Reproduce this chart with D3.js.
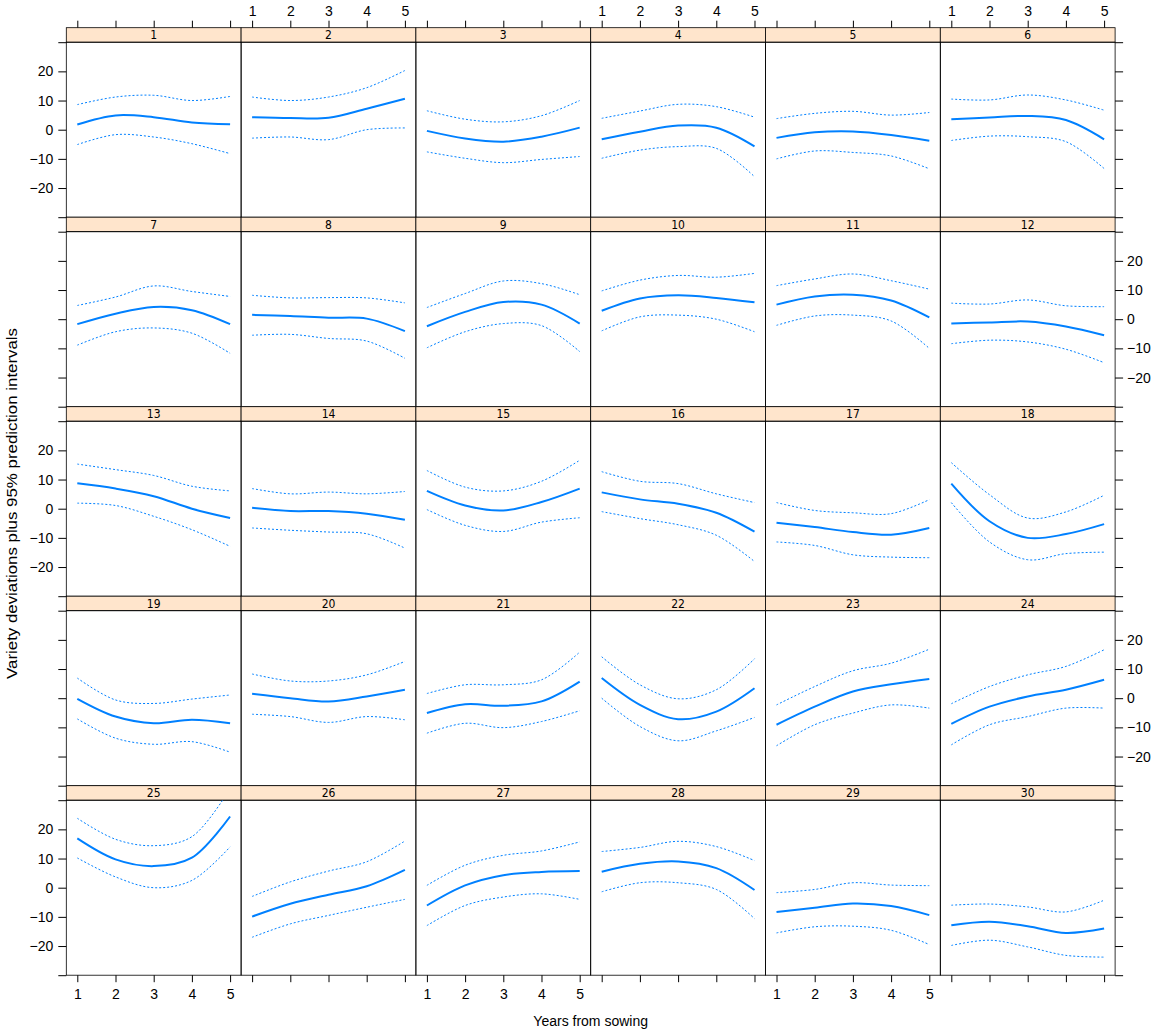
<!DOCTYPE html>
<html>
<head>
<meta charset="utf-8">
<script src="https://cdn.jsdelivr.net/npm/d3@7"></script>
<style>
  body { margin: 0; background: #fff; }
  svg text { font-family: 'Liberation Sans', Arial, Helvetica, sans-serif; fill: #000; }
  .strip text { font-family: 'Liberation Sans Narrow', 'DejaVu Sans Condensed', 'Liberation Sans', sans-serif; }
</style>
</head>
<body>
<svg id="chart" width="1157" height="1033"></svg>
<script>
// panel labels (variety numbers), in reading order
const varieties = [1, 2, 3, 4, 5, 6, 7, 8, 9, 10, 11, 12, 13, 14, 15,
  16, 17, 18, 19, 20, 21, 22, 23, 24, 25, 26, 27, 28, 29, 30];

// years from sowing at which the curves were read
const years = [1, 2, 3, 4, 5];

// fitted deviation (solid line), one row per variety
const fitted = [
  [1.8, 4.9, 4.3, 2.5, 1.9], [4.3, 4.0, 4.1, 7.2, 10.6], [-0.4, -3.0, -4.1, -2.4, 0.7],
  [-3.3, -0.7, 1.4, 0.7, -5.7], [-2.8, -0.9, -0.6, -1.8, -3.8], [3.6, 4.2, 4.7, 3.3, -3.3],
  [-1.7, 1.9, 4.2, 3.1, -1.7], [1.5, 1.1, 0.5, 0.2, -4.1], [-2.4, 2.5, 5.9, 5.0, -1.5],
  [2.9, 7.1, 8.2, 7.3, 5.8], [5.0, 7.8, 8.4, 6.4, 0.6], [-1.5, -1.1, -0.8, -2.5, -5.5],
  [8.7, 6.9, 4.3, 0.0, -3.2], [0.3, -0.8, -0.8, -1.7, -3.8], [6.1, 1.1, -0.6, 2.3, 6.9],
  [5.6, 3.2, 1.7, -1.4, -7.9], [-4.8, -6.3, -8.0, -8.9, -6.6], [8.6, -4.3, -10.0, -8.7, -5.3],
  [-0.2, -6.3, -8.6, -7.4, -8.6], [1.5, 0.0, -1.1, 0.6, 2.9], [-5.1, -2.1, -2.6, -1.1, 5.7],
  [6.9, -2.3, -7.2, -4.6, 3.4], [-9.1, -2.9, 2.3, 4.8, 6.6], [-8.8, -2.9, 0.6, 2.9, 6.3],
  [16.9, 9.7, 7.4, 10.3, 24.4], [-9.9, -5.5, -2.4, 0.5, 6.1], [-6.1, 0.8, 4.3, 5.4, 5.7],
  [5.5, 8.2, 9.0, 6.7, -0.8], [-8.3, -6.9, -5.4, -6.3, -9.4], [-12.9, -11.7, -13.2, -15.5, -14.0]
];

// upper 95% prediction limit (dotted)
const upper = [
  [8.6, 11.2, 11.8, 10.0, 11.4], [11.2, 10.0, 11.2, 14.4, 20.3], [6.5, 3.6, 2.7, 4.8, 10.0],
  [3.9, 6.4, 8.7, 7.9, 4.3], [3.8, 5.6, 6.3, 5.0, 5.9], [10.5, 10.2, 11.9, 10.2, 6.7],
  [4.7, 7.6, 11.4, 9.5, 7.8], [8.2, 7.3, 7.4, 7.3, 5.6], [4.0, 8.8, 13.1, 12.2, 8.4],
  [9.7, 13.4, 15.0, 14.4, 15.7], [11.5, 13.8, 15.5, 13.2, 10.3], [5.5, 5.2, 6.6, 4.6, 4.3],
  [15.3, 13.4, 11.4, 7.7, 6.1], [6.9, 5.1, 5.7, 5.1, 5.9], [13.1, 7.4, 6.1, 9.4, 16.6],
  [12.7, 9.4, 8.6, 5.1, 2.1], [2.1, -0.6, -1.4, -1.7, 3.1], [15.8, 4.8, -3.2, -1.1, 4.6],
  [6.9, -0.6, -1.8, -0.3, 1.1], [8.3, 5.9, 5.9, 8.0, 12.6], [1.6, 4.6, 4.6, 6.3, 15.8],
  [14.2, 4.6, -0.2, 2.9, 13.5], [-2.3, 4.0, 9.4, 12.0, 16.8], [-1.9, 4.0, 8.0, 10.9, 16.6],
  [23.8, 16.6, 14.4, 17.5, 34.0], [-3.0, 2.0, 5.7, 8.9, 16.0], [0.8, 7.7, 11.1, 12.6, 15.7],
  [12.4, 13.8, 15.9, 14.1, 9.3], [-1.7, -0.6, 1.7, 0.9, 0.7], [-6.0, -5.6, -6.6, -8.3, -4.3]
];

// lower 95% prediction limit (dotted)
const lower = [
  [-5.1, -1.7, -2.5, -4.8, -8.2], [-2.9, -2.5, -3.4, 0.0, 0.6], [-7.6, -9.8, -11.3, -10.2, -9.2],
  [-9.8, -7.0, -5.8, -6.4, -16.1], [-10.0, -7.3, -7.8, -9.0, -13.4], [-3.7, -2.2, -2.4, -4.1, -13.3],
  [-8.9, -4.3, -3.0, -4.8, -11.7], [-5.5, -5.2, -6.6, -7.5, -13.4], [-9.8, -4.3, -1.5, -2.2, -11.1],
  [-4.0, 0.8, 1.4, 0.0, -4.3], [-2.1, 1.1, 1.4, -0.6, -10.0], [-8.4, -7.2, -7.8, -10.3, -14.9],
  [1.9, 1.1, -2.6, -7.2, -12.9], [-6.6, -7.4, -8.0, -8.6, -13.5], [-0.3, -5.7, -7.8, -4.6, -3.1],
  [-1.0, -3.4, -5.5, -9.1, -18.1], [-11.4, -12.6, -15.8, -16.6, -16.8], [2.1, -11.4, -17.5, -15.4, -14.9],
  [-7.1, -13.7, -15.8, -14.9, -18.5], [-5.5, -6.3, -8.3, -6.3, -7.4], [-12.0, -8.6, -10.1, -8.0, -4.3],
  [0.0, -9.7, -14.6, -11.2, -6.6], [-16.3, -9.1, -5.1, -2.3, -3.4], [-16.0, -9.1, -6.3, -3.4, -3.4],
  [10.2, 3.7, 0.0, 2.5, 14.0], [-17.0, -12.4, -9.5, -6.7, -4.0], [-13.0, -6.1, -3.2, -2.1, -4.0],
  [-1.4, 1.7, 1.7, -0.6, -10.6], [-15.5, -13.4, -13.2, -14.6, -19.5], [-19.8, -18.0, -20.3, -23.2, -23.8]
];

const xTicks = [1, 2, 3, 4, 5];
const yTicks = [-30, -20, -10, 0, 10, 20, 30];
const yLabelled = [-20, -10, 0, 10, 20];
const xTitle = 'Years from sowing';
const yTitle = 'Variety deviations plus 95% prediction intervals';

const ncol = 6;
const nrow = 5;
const marginLeft = 66.3;
const marginTop = 27.7;
const colW = 174.8;
const stripH = 14.5;
const panelH = 175;
const rowH = stripH + panelH;
const blue = '#0080ff';

const $svg = d3.select('#chart');

const x = d3.scaleLinear().domain([0.712, 5.288]).range([0, colW]);
const y = d3.scaleLinear().domain([-30, 30]).range([panelH, 0]);

const line = d3.line()
  .x((d, i) => x(years[i]))
  .y(d => y(d))
  .curve(d3.curveCatmullRom);

const fmtY = d => (yLabelled.includes(d) ? String(d).replace('-', '\u2212') : '');

function styleAxis(g) {
  g.attr('font-size', 14).attr('font-family', null);
  g.select('.domain').remove();
  g.selectAll('line').attr('stroke', '#000');
}

function setupPanels() {
  $svg.append('defs')
    .append('clipPath')
    .attr('id', 'panel-clip')
    .append('rect')
    .attr('width', colW)
    .attr('height', panelH);

  const $panel = $svg.selectAll('.panel')
    .data(varieties)
    .enter()
    .append('g')
    .attr('class', 'panel')
    .attr('transform', (d, i) => {
      const c = i % ncol;
      const r = Math.floor(i / ncol);
      return `translate(${marginLeft + c * colW},${marginTop + r * rowH})`;
    });

  // strip
  const $strip = $panel.append('g').attr('class', 'strip');
  $strip.append('rect')
    .attr('width', colW)
    .attr('height', stripH)
    .attr('fill', '#ffe5cc')
    .attr('stroke', '#000')
    .attr('stroke-width', 0.8);
  $strip.append('text')
    .attr('x', colW / 2)
    .attr('y', stripH / 2)
    .attr('dy', '0.36em')
    .attr('text-anchor', 'middle')
    .attr('font-size', 12)
    .text(d => d);

  const $plot = $panel.append('g')
    .attr('transform', `translate(0,${stripH})`);

  $plot.append('rect')
    .attr('width', colW)
    .attr('height', panelH)
    .attr('fill', 'none')
    .attr('stroke', '#000')
    .attr('stroke-width', 0.8);

  const $lines = $plot.append('g').attr('clip-path', 'url(#panel-clip)');

  $lines.append('path')
    .attr('d', (d, i) => line(upper[i]))
    .attr('fill', 'none')
    .attr('stroke', blue)
    .attr('stroke-width', 1)
    .attr('stroke-dasharray', '2,2');

  $lines.append('path')
    .attr('d', (d, i) => line(lower[i]))
    .attr('fill', 'none')
    .attr('stroke', blue)
    .attr('stroke-width', 1)
    .attr('stroke-dasharray', '2,2');

  $lines.append('path')
    .attr('d', (d, i) => line(fitted[i]))
    .attr('fill', 'none')
    .attr('stroke', blue)
    .attr('stroke-width', 2);
}

function setupAxes() {
  // lattice-style alternating axes
  d3.range(ncol).forEach(c => {
    const x0 = marginLeft + c * colW;
    $svg.append('g')
      .attr('transform', `translate(${x0},${marginTop})`)
      .call(d3.axisTop(x).tickValues(xTicks).tickSize(7).tickPadding(5)
        .tickFormat(d => (c % 2 === 1 ? d : '')))
      .call(styleAxis);

    $svg.append('g')
      .attr('transform', `translate(${x0},${marginTop + nrow * rowH})`)
      .call(d3.axisBottom(x).tickValues(xTicks).tickSize(7).tickPadding(7)
        .tickFormat(d => (c % 2 === 0 ? d : '')))
      .call(styleAxis);
  });

  d3.range(nrow).forEach(r => {
    const y0 = marginTop + r * rowH + stripH;
    $svg.append('g')
      .attr('transform', `translate(${marginLeft},${y0})`)
      .call(d3.axisLeft(y).tickValues(yTicks).tickSize(8).tickPadding(5)
        .tickFormat(d => (r % 2 === 0 ? fmtY(d) : '')))
      .call(styleAxis);

    $svg.append('g')
      .attr('transform', `translate(${marginLeft + ncol * colW},${y0})`)
      .call(d3.axisRight(y).tickValues(yTicks).tickSize(8).tickPadding(4)
        .tickFormat(d => (r % 2 === 1 ? fmtY(d) : '')))
      .call(styleAxis);
  });
}

function setupTitles() {
  $svg.append('text')
    .attr('x', marginLeft + (ncol * colW) / 2)
    .attr('y', 1026)
    .attr('text-anchor', 'middle')
    .attr('font-size', 14)
    .text(xTitle);

  const midY = marginTop + (nrow * rowH) / 2 + 2;
  $svg.append('text')
    .attr('transform', `translate(17,${midY}) rotate(-90)`)
    .attr('text-anchor', 'middle')
    .attr('font-size', 14.5)
    .attr('textLength', 351)
    .attr('lengthAdjust', 'spacingAndGlyphs')
    .text(yTitle);
}

function init() {
  setupPanels();
  setupAxes();
  setupTitles();
}

init();
</script>
</body>
</html>
